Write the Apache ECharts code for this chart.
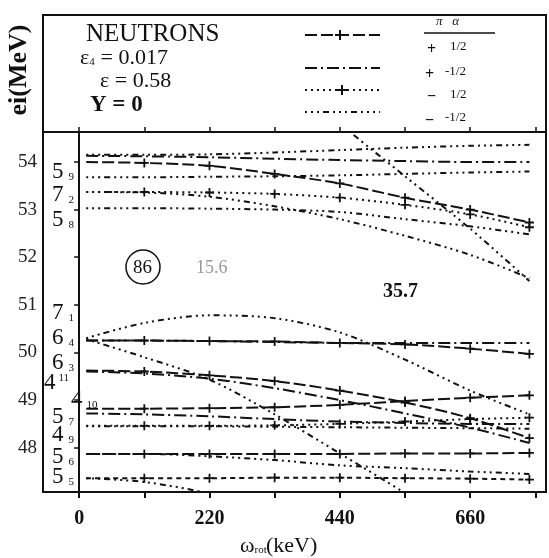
<!DOCTYPE html>
<html>
<head>
<meta charset="utf-8">
<script src="https://cdn.jsdelivr.net/npm/echarts@6.0.0/dist/echarts.min.js"></script>
<style>
  html, body { margin: 0; padding: 0; background: #fff; }
  #chart { width: 549px; height: 558px; }
</style>
</head>
<body>
<div id="chart"></div>
<script>
// rotational frequency (keV) where each Routhian is sampled
const omega = [12, 110, 220, 330, 440, 550, 660, 760];
const omegaTicks = [0, 110, 220, 330, 440, 550, 660, 770];
const omegaLabels = [0, 220, 440, 660];
const energyTicks = [48, 49, 50, 51, 52, 53, 54];

// upper group (MeV)
const lvlTopRise = [54.15, 54.15, 54.16, 54.2, 54.25, 54.3, 54.34, 54.36];
const lvlTopFlat = [54.13, 54.12, 54.1, 54.07, 54.04, 54.02, 54.0, 54.0];
const lvlTopDrop = [54.0, 53.98, 53.92, 53.75, 53.55, 53.25, 53.0, 52.73];
const lvl59 = [53.68, 53.68, 53.69, 53.7, 53.72, 53.75, 53.78, 53.8];
const lvl72a = [53.37, 53.37, 53.36, 53.33, 53.25, 53.1, 52.9, 52.63];
const lvl72b = [53.37, 53.36, 53.27, 53.07, 52.8, 52.45, 52.05, 51.56];
const lvl58 = [53.03, 53.03, 53.02, 53.0, 52.95, 52.8, 52.65, 52.48];
const lvlSteep = [null, null, null, null, 54.8, 53.7, 52.6, 51.5];

// lower group (MeV)
const lvl71a = [50.3, 50.62, 50.78, 50.72, 50.42, 49.85, 49.2, 48.7];
const lvl71b = [50.28, 49.9, 49.43, 48.7, 47.88, 47.05, 46.2, null];
const lvl64a = [50.25, 50.25, 50.24, 50.23, 50.2, 50.17, 50.08, 49.97];
const lvl64b = [50.25, 50.25, 50.24, 50.22, 50.2, 50.2, 50.2, 50.2];
const lvl63a = [49.62, 49.6, 49.52, 49.4, 49.2, 48.95, 48.62, 48.2];
const lvl63b = [49.6, 49.56, 49.45, 49.25, 49.0, 48.72, 48.42, 48.1];
const lvl410a = [48.82, 48.82, 48.83, 48.85, 48.9, 48.98, 49.05, 49.1];
const lvl410b = [48.72, 48.7, 48.66, 48.6, 48.55, 48.52, 48.5, 48.5];
const lvl57a = [48.46, 48.46, 48.46, 48.47, 48.5, 48.55, 48.6, 48.63];
const lvl57b = [48.45, 48.45, 48.45, 48.44, 48.43, 48.42, 48.41, 48.4];
const lvl56a = [47.87, 47.87, 47.87, 47.87, 47.87, 47.88, 47.88, 47.89];
const lvl56b = [47.87, 47.87, 47.82, 47.74, 47.63, 47.57, 47.5, 47.45];
const lvl55a = [47.36, 47.36, 47.36, 47.37, 47.37, 47.36, 47.35, 47.33];
const lvl55b = [47.36, 47.28, 47.04, 46.7, null, null, null, null];

const SERIF = "'Liberation Serif', 'DejaVu Serif', serif";
const PLUS = 'path://M4,0H6V4H10V6H6V10H4V6H0V4H4Z';

// line styles: parity/signature combinations
const styles = {
    dashPlus: { type: [12, 4], plus: true },
    dashDot: { type: [12, 4, 2, 4], plus: false },
    dotPlus: { type: [2, 4], plus: true },
    dot: { type: [2, 4, 2, 4, 2, 4, 6, 4], plus: false },
    shortDash: { type: [5, 4], plus: true }
};

function makeSeries(name, values, styleKey) {
    const st = styles[styleKey];
    const data = [];
    omega.forEach((w, i) => {
        if (values[i] === null) return;
        if (i === 0) data.push({ value: [w, values[i]], symbol: 'none' });
        else data.push([w, values[i]]);
    });
    return {
        name: name,
        type: 'line',
        smooth: 0.3,
        data: data,
        symbol: st.plus ? PLUS : 'none',
        symbolSize: 9,
        showAllSymbol: true,
        itemStyle: { color: '#111' },
        lineStyle: { color: '#111', width: 2, type: st.type },
        clip: true,
        silent: true
    };
}

const series = [
    makeSeries('top rise', lvlTopRise, 'dot'),
    makeSeries('top flat', lvlTopFlat, 'dashDot'),
    makeSeries('top drop', lvlTopDrop, 'dashPlus'),
    makeSeries('5_9', lvl59, 'dot'),
    makeSeries('7_2 a', lvl72a, 'dotPlus'),
    makeSeries('7_2 b', lvl72b, 'dot'),
    makeSeries('5_8', lvl58, 'dot'),
    makeSeries('steep', lvlSteep, 'dot'),
    makeSeries('7_1 a', lvl71a, 'dot'),
    makeSeries('7_1 b', lvl71b, 'dot'),
    makeSeries('6_4 a', lvl64a, 'dashPlus'),
    makeSeries('6_4 b', lvl64b, 'dashDot'),
    makeSeries('6_3 a', lvl63a, 'dashPlus'),
    makeSeries('6_3 b', lvl63b, 'dashDot'),
    makeSeries('4_10 a', lvl410a, 'dashPlus'),
    makeSeries('4_10 b', lvl410b, 'dashDot'),
    makeSeries('5_7 a', lvl57a, 'dotPlus'),
    makeSeries('5_7 b', lvl57b, 'dot'),
    makeSeries('5_6 a', lvl56a, 'dashPlus'),
    makeSeries('5_6 b', lvl56b, 'dot'),
    makeSeries('5_5 a', lvl55a, 'shortDash'),
    makeSeries('5_5 b', lvl55b, 'dot')
];

// orbital labels on the left edge
const orbitLabels = [
    ['5', '9', 172], ['7', '2', 195], ['5', '8', 220], ['7', '1', 313],
    ['6', '4', 338], ['6', '3', 363], ['5', '7', 417], ['4', '9', 435],
    ['5', '6', 457], ['5', '5', 477]
];

function txt(text, x, y, size, weight, color) {
    return {
        type: 'text', x: x, y: y, silent: true,
        style: {
            text: text, fill: color || '#111', font: (weight || 'normal') + ' ' + size + 'px ' + SERIF,
            textAlign: 'left', textVerticalAlign: 'middle'
        }
    };
}

function legLine(y, dash) {
    return {
        type: 'line', silent: true,
        shape: { x1: 305, y1: y, x2: 380, y2: y },
        style: { stroke: '#111', lineWidth: 2, lineDash: dash }
    };
}

function plusMark(x, y) {
    return {
        type: 'polygon', silent: true,
        shape: { points: [[x - 1, y - 5], [x + 1, y - 5], [x + 1, y - 1], [x + 5, y - 1], [x + 5, y + 1],
                          [x + 1, y + 1], [x + 1, y + 5], [x - 1, y + 5], [x - 1, y + 1], [x - 5, y + 1],
                          [x - 5, y - 1], [x - 1, y - 1]] },
        style: { fill: '#111' }
    };
}

function subText(main, sub, x, y, size, subPad, weight) {
    return {
        type: 'text', x: x, y: y, silent: true,
        style: {
            text: main + '{s|' + sub + '}',
            rich: { s: { fontSize: 11, fontFamily: SERIF, fill: '#111', padding: subPad } },
            font: (weight || 'normal') + ' ' + size + 'px ' + SERIF, fill: '#111', textVerticalAlign: 'middle'
        }
    };
}

const graphics = [
    // legend box above the plot
    { type: 'rect', silent: true, shape: { x: 43, y: 15, width: 503, height: 117 },
      style: { fill: 'none', stroke: '#111', lineWidth: 2 } },
    txt('NEUTRONS', 86, 34, 25),
    subText('ε', '4', 80, 58, 22, [9, 0, 0, 0]),
    txt(' = 0.017', 95, 58, 22),
    txt('ε = 0.58', 100, 81, 22),
    txt('Y = 0', 90, 105, 23, 'bold'),
    // line style key
    legLine(35, [12, 4]), plusMark(340, 35),
    legLine(68, [12, 4, 2, 4]),
    legLine(90, [2, 4]), plusMark(342, 90),
    legLine(112, [2, 4, 2, 4, 2, 4, 6, 4]),
    txt('π   α', 436, 22, 13, 'italic'),
    { type: 'line', silent: true, shape: { x1: 424, y1: 33, x2: 495, y2: 33 },
      style: { stroke: '#111', lineWidth: 1.5 } },
    txt('+', 427, 50, 16, 'bold'), txt('1/2', 450, 47, 13),
    txt('+', 425, 75, 16, 'bold'), txt('-1/2', 445, 72, 13),
    txt('−', 427, 97, 16, 'bold'), txt('1/2', 450, 95, 13),
    txt('−', 425, 121, 16, 'bold'), txt('-1/2', 445, 118, 13),
    // axis title on the left
    {
        type: 'text', x: 19, y: 70, rotation: Math.PI / 2, silent: true,
        style: { text: 'ei(MeV)', font: 'bold 26px ' + SERIF, fill: '#111',
                 textAlign: 'center', textVerticalAlign: 'middle' }
    },
    // x-axis title
    subText('ω', 'rot', 240, 546, 22, [9, 0, 0, 0]),
    txt('(keV)', 266, 546, 22),
    // circled mass number and side notes
    { type: 'circle', silent: true, shape: { cx: 143, cy: 267, r: 17 },
      style: { fill: 'none', stroke: '#111', lineWidth: 1.5 } },
    txt('86', 133, 268, 19),
    txt('15.6', 196, 268, 18, 'normal', '#999'),
    txt('35.7', 383, 292, 20, 'bold'),
    // 4_11 and 4_10 labels
    subText('4', '11', 44, 383, 23, [0, 0, 10, 3]),
    subText('4', '10', 71, 400, 23, [10, 0, 0, 4])
];

orbitLabels.forEach(function (l) {
    graphics.push(subText(l[0], l[1], 52, l[2], 23, [10, 0, 0, 5]));
});

const chart = echarts.init(document.getElementById('chart'));
chart.setOption({
    animation: false,
    backgroundColor: '#fff',
    grid: { left: 43, right: 3, top: 132, bottom: 66, show: true, borderColor: '#111', borderWidth: 2 },
    xAxis: [
        {
            type: 'value', min: -61, max: 788, position: 'bottom',
            axisLine: { show: true, lineStyle: { color: '#111', width: 2 } },
            axisTick: { show: true, inside: false, length: 6, customValues: omegaTicks, lineStyle: { color: '#111', width: 2 } },
            axisLabel: { customValues: omegaLabels, color: '#111', fontSize: 20, fontFamily: SERIF, fontWeight: 'bold', margin: 17 },
            splitLine: { show: false }
        },
        {
            type: 'value', min: -61, max: 788, position: 'top',
            axisLine: { show: true, lineStyle: { color: '#111', width: 2 } },
            axisTick: { show: true, inside: false, length: 5, customValues: omegaTicks, lineStyle: { color: '#111', width: 1.5 } },
            axisLabel: { show: false },
            splitLine: { show: false }
        }
    ],
    yAxis: {
        type: 'value', min: 47.07, max: 54.63,
        axisLine: { show: true, lineStyle: { color: '#111', width: 2 } },
        axisTick: { show: true, inside: false, length: 5, customValues: energyTicks, lineStyle: { color: '#111', width: 1.5 } },
        axisLabel: { customValues: energyTicks, color: '#222', fontSize: 19, fontFamily: SERIF, margin: 6 },
        splitLine: { show: false }
    },
    series: series,
    graphic: graphics
});
</script>
</body>
</html>
